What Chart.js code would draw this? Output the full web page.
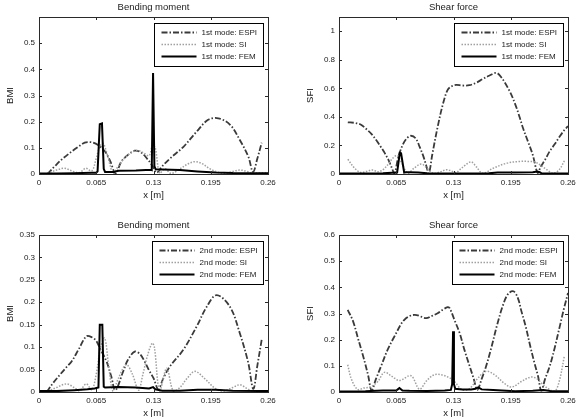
<!DOCTYPE html>
<html>
<head>
<meta charset="utf-8">
<script src="https://cdn.jsdelivr.net/npm/chart.js@4"></script>
<style>
  html, body { margin: 0; padding: 0; background: #fff; overflow: hidden; }
  #wrap { position: relative; width: 580px; height: 417px; overflow: hidden; }
  canvas { position: absolute; }
</style>
</head>
<body>
<div id="wrap">
  <canvas id="c1" width="290" height="205" style="left:0px;top:0px"></canvas>
  <canvas id="c2" width="290" height="205" style="left:290px;top:0px"></canvas>
  <canvas id="c3" width="290" height="218" style="left:0px;top:205px"></canvas>
  <canvas id="c4" width="290" height="218" style="left:290px;top:205px"></canvas>
</div>
<script>
// tick positions
var xTicks = [0, 0.065, 0.13, 0.195, 0.26];
var yTicksBM1 = [0, 0.1, 0.2, 0.3, 0.4, 0.5];
var yTicksSF1 = [0, 0.2, 0.4, 0.6, 0.8, 1];
var yTicksBM2 = [0, 0.05, 0.1, 0.15, 0.2, 0.25, 0.3, 0.35];
var yTicksSF2 = [0, 0.1, 0.2, 0.3, 0.4, 0.5, 0.6];

// bending moment, 1st mode
var bm1EspiX = [0.0095,0.018,0.0253,0.0367,0.045,0.0519,0.0575,0.0613,0.067,0.072,0.0764,0.081,0.087,0.0934,0.101,0.1087,0.116,0.1238,0.129,0.1335,0.14,0.149,0.164,0.179,0.192,0.2036,0.217,0.228,0.2377,0.243,0.248,0.2528];
var bm1EspiY = [0,0.03,0.054,0.085,0.105,0.12,0.122,0.12,0.111,0.097,0.079,0.048,0.002,0.047,0.073,0.089,0.082,0.054,0.03,0.005,0.03,0.06,0.104,0.162,0.207,0.213,0.188,0.13,0.066,0.008,0.06,0.119];
var bm1SiX = [0.0095,0.02,0.029,0.037,0.046,0.053,0.06,0.065,0.069,0.0727,0.077,0.081,0.084,0.09,0.097,0.105,0.112,0.119,0.125,0.129,0.132,0.137,0.143,0.15,0.16,0.17,0.177,0.185,0.195,0.209,0.22,0.228,0.236,0.242,0.25,0.26];
var bm1SiY = [0.002,0.015,0.022,0.012,0.005,0.022,0.012,0.06,0.105,0.117,0.08,0.03,0.002,0.03,0.06,0.082,0.09,0.08,0.07,0.11,0.1,0.002,0.02,0.002,0.02,0.04,0.047,0.04,0.018,0.002,0.01,0.015,0.01,0.002,0.005,0.005];
var bm1FemX = [0,0.02,0.04,0.06,0.065,0.0665,0.069,0.0715,0.0735,0.075,0.085,0.09,0.11,0.127,0.128,0.1295,0.131,0.1325,0.14,0.16,0.18,0.2,0.22,0.26];
var bm1FemY = [0.002,0.002,0.003,0.005,0.005,0.01,0.19,0.193,0.02,0.008,0.008,0.012,0.013,0.016,0.015,0.386,0.03,0.018,0.017,0.015,0.01,0.006,0.004,0.003];

// shear force, 1st mode
var sf1EspiX = [0.01,0.018,0.025,0.031,0.037,0.042,0.047,0.052,0.056,0.0595,0.063,0.067,0.072,0.077,0.0817,0.087,0.0916,0.096,0.099,0.102,0.106,0.112,0.118,0.1234,0.128,0.133,0.14,0.148,0.156,0.163,0.171,0.1787,0.184,0.1938,0.2,0.205,0.209,0.215,0.22,0.2255,0.229,0.234,0.239,0.245,0.2506,0.2555,0.26];
var sf1EspiY = [0.362,0.358,0.345,0.315,0.28,0.24,0.195,0.146,0.1,0.05,0.005,0.11,0.2,0.25,0.268,0.25,0.19,0.12,0.06,0.005,0.14,0.33,0.49,0.59,0.615,0.625,0.62,0.622,0.64,0.665,0.69,0.708,0.68,0.58,0.49,0.4,0.32,0.22,0.134,0.008,0.05,0.1,0.157,0.21,0.263,0.305,0.335];
var sf1SiX = [0.01,0.0178,0.025,0.032,0.0386,0.044,0.05,0.056,0.061,0.066,0.071,0.078,0.085,0.0935,0.1,0.107,0.115,0.122,0.128,0.133,0.137,0.143,0.15,0.156,0.163,0.175,0.19,0.205,0.215,0.222,0.228,0.236,0.243,0.25,0.2565];
var sf1SiY = [0.103,0.04,0.01,0.02,0.028,0.015,0.03,0.07,0.11,0.13,0.08,0.005,0.04,0.07,0.04,0.005,0.015,0.03,0.02,0.01,0.03,0.06,0.085,0.05,0.005,0.04,0.075,0.088,0.088,0.085,0.065,0.03,0.005,0.03,0.1];
var sf1FemX = [0,0.03,0.05,0.06,0.065,0.066,0.069,0.0705,0.074,0.076,0.08,0.09,0.1,0.15,0.17,0.18,0.2,0.22,0.225,0.228,0.23,0.26];
var sf1FemY = [0.004,0.004,0.005,0.008,0.01,0.01,0.148,0.145,0.01,0.012,0.012,0.01,0.005,0.004,0.005,0.01,0.01,0.012,0.018,0.012,0.005,0.004];

// bending moment, 2nd mode
var bm2EspiX = [0.0087,0.016,0.024,0.031,0.037,0.045,0.0537,0.06,0.065,0.069,0.0767,0.082,0.0867,0.0956,0.101,0.1087,0.1145,0.12,0.125,0.13,0.1355,0.141,0.1487,0.1638,0.179,0.1904,0.2017,0.2168,0.228,0.2376,0.2433,0.248,0.2528];
var bm2EspiY = [0,0.02,0.039,0.055,0.068,0.095,0.124,0.122,0.114,0.098,0.068,0.035,0.004,0.046,0.072,0.09,0.085,0.068,0.048,0.031,0.006,0.03,0.057,0.094,0.146,0.19,0.216,0.19,0.131,0.065,0.007,0.06,0.116];
var bm2SiX = [0.0102,0.02,0.031,0.04,0.046,0.0537,0.06,0.065,0.07,0.0746,0.079,0.084,0.09,0.099,0.106,0.113,0.118,0.123,0.1285,0.131,0.137,0.145,0.1525,0.16,0.168,0.177,0.188,0.2,0.209,0.22,0.228,0.236,0.242,0.25];
var bm2SiY = [0.002,0.01,0.018,0.01,0.003,0.018,0.005,0.04,0.1,0.12,0.06,0.002,0.03,0.061,0.04,0.004,0.04,0.08,0.109,0.1,0.002,0.053,0.002,0.01,0.03,0.046,0.03,0.008,0.002,0.01,0.016,0.008,0.002,0.003];
var bm2FemX = [0,0.02,0.04,0.055,0.063,0.0675,0.069,0.0719,0.0735,0.075,0.09,0.11,0.125,0.1295,0.132,0.14,0.16,0.18,0.2,0.22,0.26];
var bm2FemY = [0.002,0.002,0.004,0.006,0.008,0.01,0.15,0.15,0.012,0.01,0.011,0.01,0.008,0.011,0.006,0.003,0.003,0.005,0.005,0.003,0.002];

// shear force, 2nd mode
var sf2EspiX = [0.0099,0.016,0.022,0.028,0.033,0.037,0.042,0.0477,0.055,0.0629,0.0742,0.0856,0.0988,0.105,0.112,0.118,0.1234,0.1257,0.131,0.137,0.1425,0.1484,0.153,0.157,0.162,0.167,0.173,0.179,0.186,0.192,0.198,0.203,0.207,0.212,0.2175,0.222,0.226,0.2297,0.234,0.2392,0.245,0.2506,0.2555,0.26];
var sf2EspiY = [0.314,0.27,0.2,0.13,0.065,0.006,0.05,0.098,0.16,0.212,0.276,0.295,0.282,0.29,0.301,0.315,0.324,0.32,0.276,0.225,0.16,0.098,0.05,0.008,0.05,0.098,0.17,0.25,0.33,0.375,0.385,0.36,0.31,0.25,0.17,0.11,0.06,0.005,0.05,0.098,0.17,0.25,0.32,0.378];
var sf2SiX = [0.0099,0.014,0.021,0.028,0.036,0.044,0.0515,0.06,0.0686,0.0818,0.0913,0.1,0.1083,0.117,0.125,0.131,0.14,0.148,0.157,0.167,0.177,0.187,0.196,0.207,0.218,0.225,0.231,0.238,0.245,0.25,0.256];
var sf2SiY = [0.104,0.05,0.01,0.015,0.02,0.04,0.075,0.06,0.044,0.062,0.011,0.045,0.066,0.065,0.055,0.04,0.008,0.012,0.05,0.079,0.065,0.035,0.019,0.04,0.057,0.05,0.03,0.012,0.003,0.04,0.14];
var sf2FemX = [0,0.03,0.05,0.065,0.0686,0.072,0.08,0.1,0.12,0.127,0.1285,0.1295,0.1305,0.132,0.14,0.15,0.155,0.158,0.162,0.175,0.2,0.22,0.232,0.24,0.26];
var sf2FemY = [0.002,0.003,0.006,0.006,0.015,0.006,0.005,0.004,0.006,0.008,0.03,0.232,0.03,0.012,0.01,0.01,0.012,0.018,0.01,0.008,0.003,0.005,0.008,0.004,0.003];

var FONT = 'Liberation Sans';
var TXT = '#1a1a1a';

function pts(xs, ys) {
    return xs.map(function (x, i) { return {x: x, y: ys[i]}; });
}

function series(label, xs, ys, kind) {
    var st = {
        espi: {borderColor: '#3a3a3a', borderWidth: 1.8, borderDash: [6, 2, 1.5, 2], order: 3},
        si:   {borderColor: '#a0a0a0', borderWidth: 1.5, borderDash: [1.5, 1.5], order: 2},
        fem:  {borderColor: '#000000', borderWidth: 2, borderDash: [], order: 1}
    }[kind];
    return Object.assign({
        label: label,
        data: pts(xs, ys),
        pointRadius: 0,
        fill: false,
        tension: kind === 'fem' ? 0 : 0.35
    }, st);
}

// box, inward ticks, title and legend drawn the matlab way
var matlabAxes = {
    id: 'matlabAxes',
    afterDraw: function (chart, args, opts) {
        var ctx = chart.ctx, a = chart.chartArea;
        var sx = chart.scales.x, sy = chart.scales.y;
        ctx.save();
        ctx.strokeStyle = '#2a2a2a';
        ctx.lineWidth = 1;
        ctx.setLineDash([]);
        ctx.beginPath();
        sx.ticks.forEach(function (t) {
            var px = Math.round(sx.getPixelForValue(t.value)) + 0.5;
            ctx.moveTo(px, a.bottom); ctx.lineTo(px, a.bottom - 3);
            ctx.moveTo(px, a.top); ctx.lineTo(px, a.top + 3);
        });
        sy.ticks.forEach(function (t) {
            var py = Math.round(sy.getPixelForValue(t.value)) + 0.5;
            ctx.moveTo(a.left, py); ctx.lineTo(a.left + 3, py);
            ctx.moveTo(a.right, py); ctx.lineTo(a.right - 3, py);
        });
        ctx.stroke();
        ctx.strokeRect(Math.round(a.left) + 0.5, Math.round(a.top) + 0.5,
                       Math.round(a.right - a.left), Math.round(a.bottom - a.top));

        ctx.fillStyle = TXT;
        ctx.font = '9.5px "' + FONT + '"';
        ctx.textAlign = 'center';
        ctx.textBaseline = 'middle';
        ctx.fillText(opts.title, (a.left + a.right) / 2, a.top - 9.5);

        // legend
        ctx.font = '8px "' + FONT + '"';
        var items = chart.data.datasets;
        var tw = Math.max.apply(null, items.map(function (d) { return ctx.measureText(d.label).width; }));
        var w = Math.round(7 + 35 + 5 + tw + 6), h = 43;
        var bx = Math.round(a.right - 5 - w) + 0.5, by = Math.round(a.top + 6) + 0.5;
        ctx.fillStyle = '#fff';
        ctx.fillRect(bx, by, w, h);
        ctx.strokeStyle = '#000';
        ctx.strokeRect(bx, by, w, h);
        items.forEach(function (d, i) {
            var ly = by + 9 + i * 12;
            ctx.beginPath();
            ctx.setLineDash(d.borderDash);
            ctx.strokeStyle = d.borderColor;
            ctx.lineWidth = d.borderWidth;
            ctx.moveTo(bx + 7, ly);
            ctx.lineTo(bx + 42, ly);
            ctx.stroke();
            ctx.fillStyle = TXT;
            ctx.textAlign = 'left';
            ctx.fillText(d.label, bx + 47, ly + 0.5);
        });
        ctx.restore();
    }
};

function makeChart(id, title, yTitle, yMax, yTicks, sets, padTop, padRight, yWidth, yTitlePad) {
    return new Chart(document.getElementById(id), {
        type: 'line',
        data: {datasets: sets},
        plugins: [matlabAxes],
        options: {
            responsive: false,
            animation: false,
            events: [],
            layout: {padding: {top: padTop, right: padRight, left: 0, bottom: 0}},
            plugins: {
                legend: {display: false},
                tooltip: {enabled: false},
                matlabAxes: {title: title}
            },
            scales: {
                x: {
                    type: 'linear',
                    min: 0, max: 0.26,
                    afterBuildTicks: function (s) { s.ticks = xTicks.map(function (v) { return {value: v}; }); },
                    afterFit: function (s) { s.height = 31; },
                    grid: {display: false, drawTicks: false},
                    border: {display: false},
                    ticks: {
                        padding: 4, autoSkip: false, maxRotation: 0, color: TXT,
                        font: {size: 8, family: FONT},
                        callback: function (v) { return String(v); }
                    },
                    title: {display: true, text: 'x [m]', color: TXT, font: {size: 9.5, family: FONT}, padding: {top: 0, bottom: 4.3}}
                },
                y: {
                    min: 0, max: yMax,
                    afterBuildTicks: function (s) { s.ticks = yTicks.map(function (v) { return {value: v}; }); },
                    afterFit: function (s) { s.width = yWidth; },
                    grid: {display: false, drawTicks: false},
                    border: {display: false},
                    ticks: {
                        padding: 4, color: TXT,
                        font: {size: 8, family: FONT},
                        callback: function (v) { return String(v); }
                    },
                    title: {display: true, text: yTitle, color: TXT, font: {size: 9.5, family: FONT}, padding: {top: yTitlePad, bottom: 0}}
                }
            }
        }
    });
}

makeChart('c1', 'Bending moment', 'BMI', 0.6, yTicksBM1, [
    series('1st mode: ESPI', bm1EspiX, bm1EspiY, 'espi'),
    series('1st mode: SI', bm1SiX, bm1SiY, 'si'),
    series('1st mode: FEM', bm1FemX, bm1FemY, 'fem')
], 17, 22, 39, 4.3);

makeChart('c2', 'Shear force', 'SFI', 1.1, yTicksSF1, [
    series('1st mode: ESPI', sf1EspiX, sf1EspiY, 'espi'),
    series('1st mode: SI', sf1SiX, sf1SiY, 'si'),
    series('1st mode: FEM', sf1FemX, sf1FemY, 'fem')
], 17, 12, 49, 15);

makeChart('c3', 'Bending moment', 'BMI', 0.35, yTicksBM2, [
    series('2nd mode: ESPI', bm2EspiX, bm2EspiY, 'espi'),
    series('2nd mode: SI', bm2SiX, bm2SiY, 'si'),
    series('2nd mode: FEM', bm2FemX, bm2FemY, 'fem')
], 30, 22, 39, 4.3);

makeChart('c4', 'Shear force', 'SFI', 0.6, yTicksSF2, [
    series('2nd mode: ESPI', sf2EspiX, sf2EspiY, 'espi'),
    series('2nd mode: SI', sf2SiX, sf2SiY, 'si'),
    series('2nd mode: FEM', sf2FemX, sf2FemY, 'fem')
], 30, 12, 49, 15);
</script>
</body>
</html>
